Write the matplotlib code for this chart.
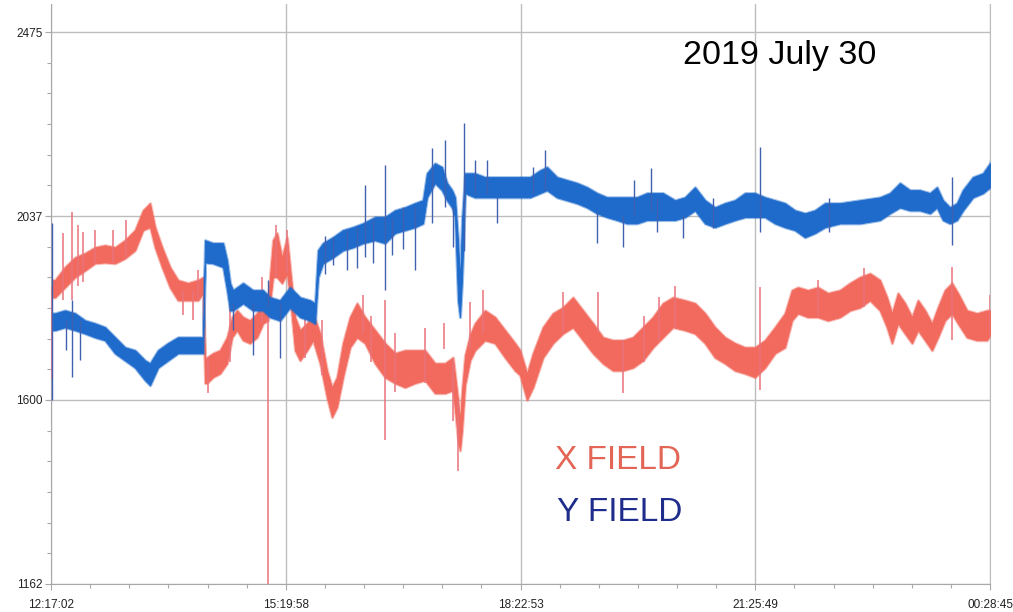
import matplotlib
matplotlib.use("Agg")
import matplotlib.pyplot as plt
import numpy as np

# ---------------- data (hours since 12:17:02, field values) ----------------
x_time = [0.026, 0.052, 0.182, 0.312, 0.442, 0.571, 0.701, 0.831, 0.961, 1.091,
          1.195, 1.286, 1.351, 1.442, 1.545, 1.649, 1.779, 1.909, 1.974, 2.000,
          2.026, 2.104, 2.195, 2.286, 2.351, 2.416, 2.494, 2.584, 2.675, 2.753,
          2.818, 2.883, 2.935, 3.000, 3.065, 3.104, 3.169, 3.234, 3.325, 3.403,
          3.494, 3.584, 3.649, 3.714, 3.792, 3.883, 3.974, 4.078, 4.208, 4.338,
          4.468, 4.597, 4.727, 4.857, 4.987, 5.117, 5.221, 5.286, 5.312, 5.338,
          5.377, 5.442, 5.506, 5.636, 5.766, 5.896, 6.026, 6.091, 6.182, 6.260,
          6.390, 6.519, 6.649, 6.779, 6.909, 7.039, 7.169, 7.299, 7.429, 7.558,
          7.688, 7.818, 7.948, 8.078, 8.234, 8.364, 8.494, 8.623, 8.753, 8.883,
          9.013, 9.143, 9.273, 9.403, 9.532, 9.623, 9.701, 9.831, 9.961, 10.091,
          10.247, 10.377, 10.506, 10.636, 10.766, 10.857, 10.922, 11.000, 11.091, 11.182,
          11.260, 11.351, 11.442, 11.519, 11.610, 11.701, 11.779, 11.896, 12.026, 12.156,
          12.195]
x_high = [1885, 1885, 1916, 1939, 1949, 1963, 1968, 1963, 1980, 2004,
          2051, 2068, 2011, 1963, 1916, 1885, 1878, 1885, 1892, 1701,
          1701, 1711, 1718, 1749, 1797, 1813, 1797, 1789, 1806, 1830,
          1837, 1980, 1997, 1939, 1987, 1916, 1797, 1766, 1782, 1806,
          1758, 1670, 1630, 1654, 1735, 1797, 1830, 1797, 1766, 1735,
          1711, 1718, 1718, 1718, 1687, 1687, 1701, 1600, 1551, 1623,
          1706, 1754, 1782, 1813, 1797, 1766, 1735, 1718, 1663, 1711,
          1773, 1806, 1820, 1844, 1813, 1782, 1749, 1742, 1742, 1749,
          1773, 1797, 1830, 1844, 1837, 1830, 1806, 1773, 1749, 1735,
          1725, 1725, 1742, 1773, 1806, 1861, 1868, 1861, 1868, 1854,
          1861, 1878, 1892, 1901, 1885, 1844, 1806, 1854, 1830, 1797,
          1837, 1813, 1782, 1820, 1861, 1878, 1854, 1813, 1806, 1813,
          1813]
x_low = [1844, 1844, 1868, 1892, 1908, 1925, 1927, 1925, 1937, 1956,
         2004, 2011, 1963, 1916, 1868, 1837, 1837, 1837, 1854, 1640,
         1640, 1654, 1663, 1687, 1749, 1766, 1742, 1735, 1749, 1782,
         1789, 1892, 1892, 1878, 1901, 1844, 1718, 1694, 1718, 1742,
         1687, 1606, 1559, 1583, 1654, 1725, 1749, 1735, 1687, 1654,
         1640, 1630, 1640, 1647, 1616, 1616, 1623, 1504, 1480, 1528,
         1635, 1694, 1718, 1742, 1735, 1701, 1670, 1659, 1600, 1630,
         1701, 1735, 1758, 1773, 1742, 1711, 1687, 1670, 1670, 1677,
         1694, 1725, 1749, 1773, 1766, 1758, 1735, 1701, 1687, 1670,
         1663, 1654, 1677, 1711, 1725, 1789, 1806, 1797, 1797, 1789,
         1797, 1813, 1820, 1837, 1813, 1773, 1735, 1782, 1758, 1735,
         1766, 1742, 1718, 1749, 1789, 1806, 1782, 1749, 1742, 1742,
         1754]

y_time = [0.026, 0.052, 0.182, 0.312, 0.442, 0.571, 0.701, 0.831, 0.961, 1.091,
          1.221, 1.286, 1.390, 1.519, 1.649, 1.779, 1.909, 1.974, 2.000, 2.104,
          2.234, 2.286, 2.325, 2.364, 2.494, 2.623, 2.753, 2.844, 2.974, 3.104,
          3.234, 3.364, 3.429, 3.468, 3.532, 3.662, 3.792, 3.922, 4.052, 4.208,
          4.338, 4.468, 4.597, 4.727, 4.831, 4.883, 4.987, 5.078, 5.143, 5.208,
          5.247, 5.286, 5.312, 5.338, 5.377, 5.506, 5.636, 5.766, 5.896, 6.026,
          6.221, 6.351, 6.442, 6.571, 6.701, 6.831, 6.961, 7.091, 7.221, 7.351,
          7.481, 7.610, 7.740, 7.948, 8.104, 8.234, 8.364, 8.494, 8.623, 8.753,
          8.883, 9.013, 9.143, 9.273, 9.403, 9.532, 9.662, 9.792, 9.922, 10.052,
          10.247, 10.506, 10.766, 10.896, 11.026, 11.156, 11.286, 11.416, 11.506, 11.584,
          11.675, 11.766, 11.844, 11.974, 12.104, 12.195]
y_high = [1806, 1806, 1813, 1806, 1789, 1782, 1773, 1749, 1725, 1718,
          1694, 1687, 1718, 1735, 1749, 1749, 1749, 1749, 1980, 1973,
          1973, 1932, 1878, 1861, 1878, 1861, 1861, 1844, 1837, 1868,
          1844, 1837, 1830, 1956, 1973, 1987, 2004, 2011, 2020, 2035,
          2035, 2051, 2058, 2068, 2075, 2139, 2163, 2154, 2116, 2099,
          2082, 1980, 1885, 2028, 2139, 2139, 2130, 2130, 2130, 2130,
          2130, 2146, 2154, 2130, 2123, 2116, 2106, 2092, 2082, 2082,
          2082, 2082, 2092, 2092, 2075, 2082, 2106, 2075, 2058, 2068,
          2075, 2092, 2092, 2082, 2075, 2068, 2051, 2044, 2051, 2068,
          2068, 2075, 2082, 2092, 2116, 2099, 2099, 2092, 2106, 2075,
          2058, 2068, 2099, 2130, 2139, 2163]
y_low = [1766, 1766, 1773, 1766, 1758, 1749, 1742, 1711, 1694, 1677,
         1647, 1635, 1677, 1694, 1711, 1711, 1711, 1711, 1927, 1925,
         1916, 1861, 1813, 1813, 1830, 1813, 1813, 1797, 1789, 1820,
         1797, 1789, 1782, 1892, 1925, 1939, 1956, 1963, 1973, 1980,
         1973, 1997, 2004, 2011, 2020, 2082, 2116, 2099, 2075, 2058,
         2035, 1837, 1797, 1885, 2092, 2082, 2082, 2082, 2082, 2082,
         2082, 2092, 2099, 2082, 2075, 2068, 2058, 2044, 2035, 2028,
         2020, 2020, 2028, 2028, 2028, 2035, 2051, 2020, 2011, 2020,
         2028, 2035, 2035, 2035, 2020, 2011, 2004, 1987, 1997, 2011,
         2020, 2020, 2028, 2044, 2058, 2051, 2051, 2044, 2058, 2028,
         2020, 2028, 2051, 2082, 2092, 2106]

# isolated spikes: time, bottom, top
x_spike_time = [0.013, 0.156, 0.273, 0.351, 0.416, 0.571, 0.805, 0.974, 1.714, 1.844,
                1.909, 2.039, 2.325, 2.740, 2.818, 2.922, 3.065, 4.052, 4.338, 5.104,
                5.221, 5.286, 5.442, 5.610, 7.104, 7.429, 9.208, 9.961, 11.701, 12.195,
                4.156, 4.468, 4.857, 6.650, 7.700, 7.900, 8.100, 3.300, 3.520, 10.560]
x_spike_low = [1650, 1837, 1837, 1870, 1880, 1925, 1925, 1937, 1801, 1790,
               1837, 1616, 1690, 1782, 1162, 1892, 1901, 1760, 1504, 1720,
               1551, 1432, 1720, 1760, 1760, 1616, 1623, 1800, 1742, 1754,
               1690, 1620, 1640, 1760, 1690, 1740, 1770, 1700, 1660, 1820]
x_spike_high = [1870, 1997, 2047, 2016, 2000, 2004, 2004, 2028, 1861, 1861,
                1908, 1700, 1880, 1892, 1837, 2016, 2004, 1849, 1837, 1782,
                1700, 1600, 1832, 1861, 1856, 1742, 1868, 1885, 1916, 1849,
                1800, 1760, 1770, 1856, 1800, 1845, 1870, 1815, 1790, 1915]

y_spike_time = [0.013, 0.195, 0.273, 0.377, 2.364, 2.623, 2.818, 2.974, 3.662, 3.844,
                3.974, 4.078, 4.338, 4.429, 4.727, 4.948, 5.117, 5.221, 5.364, 5.506,
                5.662, 5.792, 6.416, 7.091, 7.429, 7.571, 7.792, 8.208, 9.208, 11.701,
                12.195, 4.182, 4.571, 6.260, 7.870, 8.600, 10.100, 3.560]
y_spike_low = [1600, 1718, 1654, 1694, 1766, 1706, 1820, 1700, 1920, 1910,
               1915, 1939, 1861, 1944, 1908, 2020, 2060, 1963, 1955, 2090,
               2090, 2020, 2100, 1973, 1963, 2040, 2050, 1985, 2000, 1968,
               2100, 1925, 1960, 2090, 2000, 2010, 2000, 1900]
y_spike_high = [2020, 1790, 1837, 1790, 1830, 1830, 1885, 1830, 1987, 2004,
                2011, 2111, 2158, 2030, 2060, 2200, 2218, 2058, 2258, 2170,
                2170, 2082, 2194, 2050, 2040, 2123, 2151, 2040, 2201, 2130,
                2170, 2030, 2060, 2154, 2080, 2080, 2080, 1990]

x_tick_pos = [0.0, 3.04889, 6.09778, 9.14667, 12.19556]
x_tick_labels = ["12:17:02", "15:19:58", "18:22:53", "21:25:49", "00:28:45"]
y_tick_pos = [1162, 1600, 2037, 2475]
y_tick_labels = ["1162", "1600", "2037", "2475"]

title_text = "2019 July 30"
x_label_text = "X FIELD"
y_label_text = "Y FIELD"

# ---------------- styling ----------------
RED = "#F26A5E"
BLUE = "#1E6BCC"
RED_SPIKE = "#E8737A"
BLUE_SPIKE = "#4060B0"
GRID = "#BDBDBD"
AXC = "#A8A8A8"

plt.rcParams["font.family"] = ["Liberation Sans", "DejaVu Sans"]

fig = plt.figure(figsize=(10.13, 6.12), dpi=100)
ax = fig.add_axes([51 / 1013, 1 - 584 / 612, (990 - 51) / 1013, (584 - 4) / 612])

ax.set_xlim(0.0, 12.19556)
ax.set_ylim(1162, 2542)

# fuzzy outer edge, then solid band
ax.fill_between(x_time, x_low, x_high, color=RED, lw=2.2, edgecolor=RED, alpha=0.45, zorder=3)
ax.fill_between(x_time, x_low, x_high, color=RED, lw=0.6, edgecolor=RED, zorder=3)
ax.vlines(x_spike_time, x_spike_low, x_spike_high, color=RED_SPIKE, lw=1.1, zorder=3)
ax.fill_between(y_time, y_low, y_high, color=BLUE, lw=2.2, edgecolor=BLUE, alpha=0.45, zorder=4)
ax.fill_between(y_time, y_low, y_high, color=BLUE, lw=0.6, edgecolor=BLUE, zorder=4)
ax.vlines(y_spike_time, y_spike_low, y_spike_high, color=BLUE_SPIKE, lw=1.0, zorder=4)

ax.set_xticks(x_tick_pos)
ax.set_xticklabels(x_tick_labels)
ax.set_yticks(y_tick_pos)
ax.set_yticklabels(y_tick_labels)
ax.set_xticks(np.linspace(x_tick_pos[0], x_tick_pos[-1], 25), minor=True)
ax.set_yticks(np.linspace(y_tick_pos[0], y_tick_pos[-1], 19), minor=True)

ax.tick_params(axis="both", which="major", labelsize=8.5, colors="#222222",
               length=4, width=0.8, color=AXC)
ax.tick_params(axis="both", which="minor", length=3, width=0.8, color=AXC)
ax.tick_params(axis="x", which="both", pad=7)
ax.tick_params(axis="y", which="both", pad=2)

ax.grid(True, which="major", color=GRID, lw=1.0, zorder=1)
ax.spines["top"].set_visible(False)
ax.spines["right"].set_color(GRID)
ax.spines["left"].set_color(AXC)
ax.spines["bottom"].set_color(AXC)

fig.text(0.674, 0.895, title_text, fontsize=24.5, color="black", ha="left", va="baseline")
fig.text(0.548, 0.233, x_label_text, fontsize=24, color="#E36555", ha="left", va="baseline")
fig.text(0.550, 0.148, y_label_text, fontsize=24, color="#1E2C8C", ha="left", va="baseline")

fig.savefig("out.png", dpi=100, facecolor="white")
